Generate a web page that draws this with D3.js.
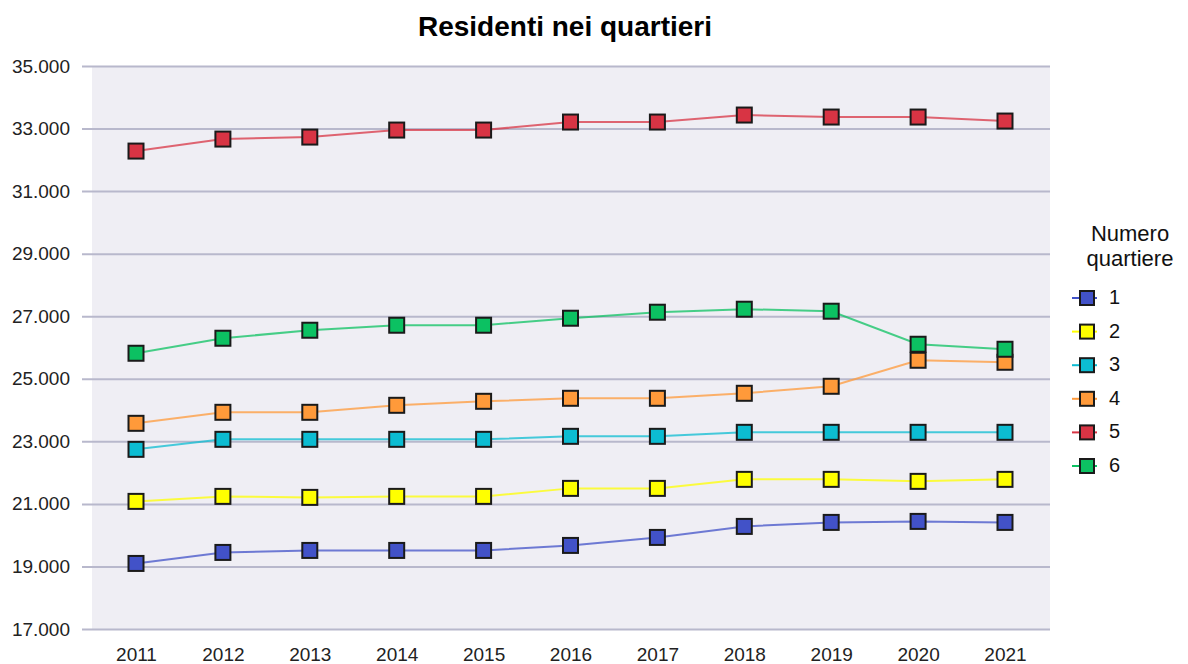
<!DOCTYPE html>
<html>
<head>
<meta charset="utf-8">
<script src="https://cdn.jsdelivr.net/npm/d3@7"></script>
<style>
body { margin: 0; background: #fff; }
text { font-family: "Liberation Sans", Arial, sans-serif; }
</style>
</head>
<body>
<svg id="chart" width="1188" height="664"></svg>
<script>

var years = [2011, 2012, 2013, 2014, 2015, 2016, 2017, 2018, 2019, 2020, 2021];
var yTicks = [17000, 19000, 21000, 23000, 25000, 27000, 29000, 31000, 33000, 35000];

var names = ["1", "2", "3", "4", "5", "6"];
var colors = ["#4252c8", "#ffff00", "#0cbcd2", "#ff9a3a", "#d83444", "#0cc162"];

var q1 = [19096, 19448, 19512, 19512, 19512, 19672, 19928, 20280, 20408, 20440, 20408];
var q2 = [21080, 21240, 21208, 21240, 21240, 21496, 21496, 21784, 21784, 21720, 21784];
var q3 = [22744, 23064, 23064, 23064, 23064, 23160, 23160, 23288, 23288, 23288, 23288];
var q4 = [23576, 23928, 23928, 24152, 24280, 24376, 24376, 24536, 24760, 25592, 25528];
var q5 = [32280, 32664, 32728, 32952, 32952, 33208, 33208, 33432, 33368, 33368, 33240];
var q6 = [25816, 26296, 26552, 26712, 26712, 26936, 27128, 27224, 27160, 26104, 25944];

var series = [q1, q2, q3, q4, q5, q6];

var svg = d3.select("#chart");

var plotLeft = 92, plotRight = 1050, plotTop = 66, plotBottom = 629;

var x = d3.scalePoint().domain(years).range([136, 1005]);
var y = d3.scaleLinear().domain([17000, 35000]).range([plotBottom, plotTop]);

var fmt = function (v) { return d3.format(",")(v).replace(/,/g, "."); };

// Title
svg.append("text")
.attr("x", 565)
.attr("y", 36)
.attr("text-anchor", "middle")
.style("font-size", "28px")
.style("font-weight", "bold")
.text("Residenti nei quartieri");

// Plot background
svg.append("rect")
.attr("x", plotLeft)
.attr("y", plotTop)
.attr("width", plotRight - plotLeft)
.attr("height", plotBottom - plotTop)
.attr("fill", "#efeef4");

// Grid + y labels
var yAxis = svg.append("g")
.attr("transform", "translate(" + plotRight + ",0)")
.call(d3.axisLeft(y).tickValues(yTicks).tickSize(plotRight - 82).tickFormat(fmt).tickPadding(12));

yAxis.select(".domain").remove();
yAxis.selectAll(".tick line").attr("stroke", "#b8b8cc").attr("stroke-width", 2);
yAxis.selectAll(".tick text")
.attr("fill", "#222")
.style("font-size", "19px");

// X labels
var xAxis = svg.append("g")
.attr("transform", "translate(0," + plotBottom + ")")
.call(d3.axisBottom(x).tickSize(0).tickPadding(19).tickFormat(d3.format("d")));

xAxis.select(".domain").remove();
xAxis.selectAll(".tick text")
.attr("fill", "#222")
.style("font-size", "19px");

// Lines
var line = d3.line()
.x(function (d, i) { return x(years[i]); })
.y(function (d) { return y(d); });

series.forEach(function (s, k) {
	svg.append("path")
	.attr("d", line(s))
	.attr("fill", "none")
	.attr("stroke", colors[k])
	.attr("stroke-width", 2)
	.attr("stroke-opacity", 0.75);
});

// Markers
var ms = 15;
series.forEach(function (s, k) {
	svg.append("g").selectAll("rect")
	.data(s)
	.enter().append("rect")
	.attr("x", function (d, i) { return x(years[i]) - ms / 2; })
	.attr("y", function (d) { return y(d) - ms / 2; })
	.attr("width", ms)
	.attr("height", ms)
	.attr("fill", colors[k])
	.attr("stroke", "#1a1a1a")
	.attr("stroke-width", 2);
});

// Legend
var legend = svg.append("g");

legend.append("text")
.attr("x", 1130)
.attr("y", 241)
.attr("text-anchor", "middle")
.style("font-size", "22px")
.attr("fill", "#111")
.text("Numero");

legend.append("text")
.attr("x", 1130)
.attr("y", 266)
.attr("text-anchor", "middle")
.style("font-size", "22px")
.attr("fill", "#111")
.text("quartiere");

var items = legend.selectAll(".item")
.data(names)
.enter().append("g")
.attr("class", "item")
.attr("transform", function (d, i) { return "translate(1087," + (298 + i * 33.6) + ")"; });

items.append("line")
.attr("x1", -15).attr("x2", 10)
.attr("stroke", function (d, i) { return colors[i]; })
.attr("stroke-width", 2);

items.append("rect")
.attr("x", -7).attr("y", -7)
.attr("width", 14).attr("height", 14)
.attr("fill", function (d, i) { return colors[i]; })
.attr("stroke", "#1a1a1a")
.attr("stroke-width", 2);

items.append("text")
.attr("x", 22)
.attr("y", 6)
.style("font-size", "20px")
.attr("fill", "#111")
.text(function (d) { return d; });

</script>
</body>
</html>
